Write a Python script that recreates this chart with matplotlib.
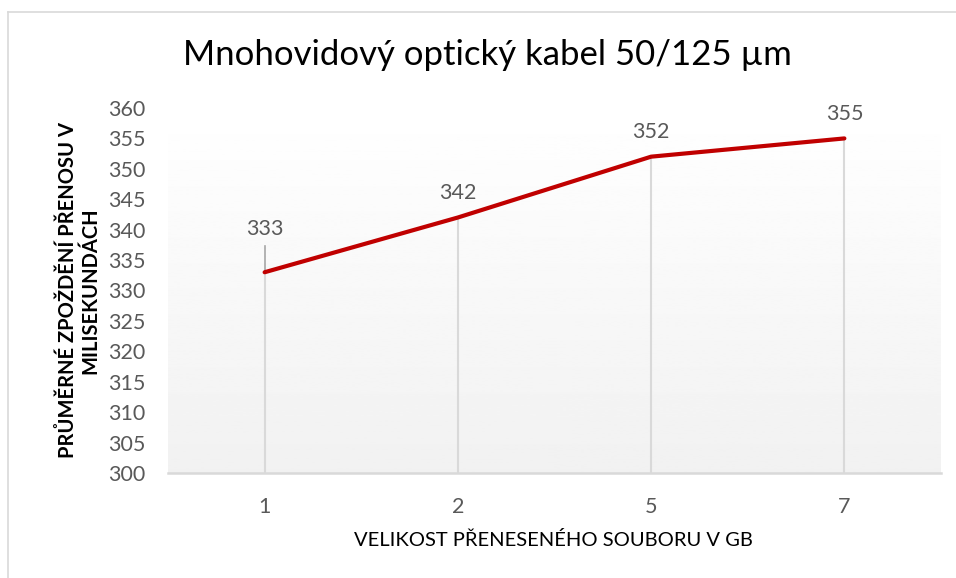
import numpy as np
import matplotlib.pyplot as plt
from matplotlib.lines import Line2D

plt.rcParams['font.family'] = ['Lato', 'DejaVu Sans']

# data
categories = ['1', '2', '5', '7']
delay_ms = [333, 342, 352, 355]
y_ticks = list(range(300, 361, 5))

W, H = 956, 578
fig = plt.figure(figsize=(W / 100, H / 100), dpi=100)
ax = fig.add_axes([168 / W, (H - 473) / H, (941 - 168) / W, (473 - 108) / H])

x = np.arange(len(categories))
ax.set_xlim(-0.5, len(categories) - 0.5)
ax.set_ylim(300, 360)

# plot area background: soft vertical gradient
grad = np.linspace(1.0, 0.945, 256).reshape(-1, 1)
ax.imshow(grad, cmap='gray', vmin=0, vmax=1, aspect='auto',
          extent=(-0.5, len(categories) - 0.5, 300, 360), origin='upper', zorder=0)

# drop lines
ax.vlines(x, 300, delay_ms, colors='#d9d9d9', linewidth=1.5, zorder=1)
ax.plot(x, delay_ms, color='#c00000', linewidth=3, solid_capstyle='round', zorder=3)

for xi, v in zip(x, delay_ms):
    off = 5.4 if xi == 0 else 2.4
    ax.text(xi, v + off, str(v), ha='center', va='bottom', fontsize=15.5, color='#595959',
            clip_on=False)
# leader line for the first label
ax.plot([0, 0], [delay_ms[0], delay_ms[0] + 4.3], color='#a6a6a6', linewidth=1.2, zorder=2)

ax.set_xticks(x)
ax.set_xticklabels(categories)
ax.set_yticks(y_ticks)
ax.tick_params(axis='both', length=0, labelsize=15.5, labelcolor='#595959')
ax.tick_params(axis='x', pad=17)
ax.tick_params(axis='y', pad=16)
for s in ['top', 'right', 'left']:
    ax.spines[s].set_visible(False)
ax.spines['bottom'].set_color('#d9d9d9')
ax.spines['bottom'].set_linewidth(1.8)

ax.set_xlabel('VELIKOST PŘENESENÉHO SOUBORU V GB', fontsize=14.5, color='#000000')
ax.xaxis.set_label_coords((553 - 168) / 773, -(531 - 473) / 365)
ax.set_ylabel('PRŮMĚRNÉ ZPOŽDĚNÍ PŘENOSU V\nMILISEKUNDÁCH', fontsize=14.5, fontweight='bold',
              color='#000000', linespacing=1.15)
ax.yaxis.set_label_coords((100 - 168) / 773, 0.5)

fig.text(487 / W, 1 - 55 / H, 'Mnohovidový optický kabel 50/125 µm', ha='center', va='center',
         fontsize=25, color='#000000')

# outer chart border (left and top edges visible)
fig.add_artist(Line2D([8 / W, 8 / W], [0, 1 - 12 / H], transform=fig.transFigure,
                      color='#d9d9d9', linewidth=1.2))
fig.add_artist(Line2D([8 / W, 1], [1 - 12 / H, 1 - 12 / H], transform=fig.transFigure,
                      color='#d9d9d9', linewidth=1.2))

fig.savefig('out.png', dpi=100)
